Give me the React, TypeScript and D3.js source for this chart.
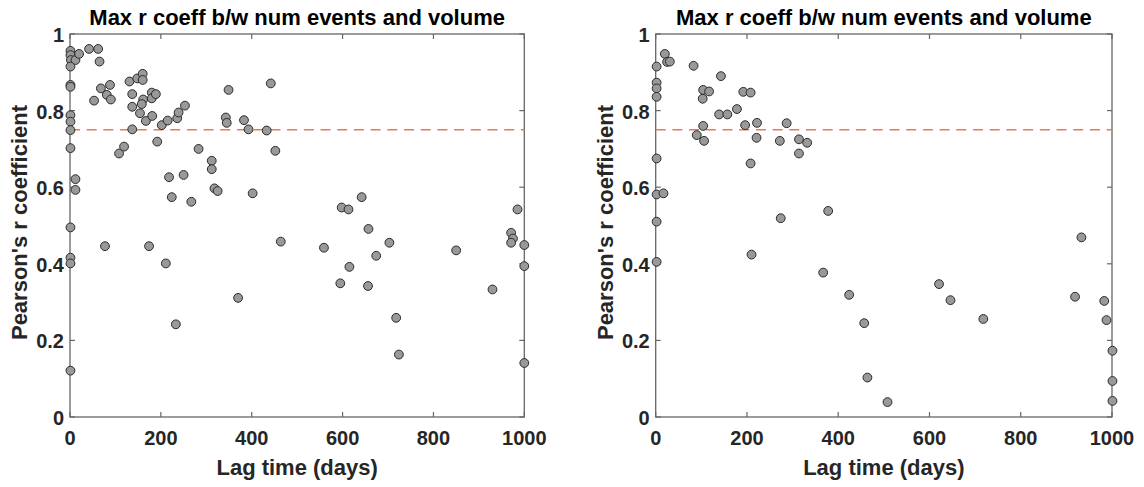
import React from "react";
import * as d3 from "d3";

const leftLag = [1, 1, 2, 12, 20, 1, 1, 1, 42, 62, 65, 53, 68, 88, 81, 90, 1, 1, 1, 1, 12, 12, 1, 77, 174, 108, 119, 131, 137, 137, 137, 148, 160, 160, 161, 154, 158, 167, 180, 180, 189, 181, 192, 202, 215, 236, 239, 253, 218, 224, 250, 267, 283, 312, 312, 318, 325, 343, 345, 349, 383, 393, 402, 433, 442, 452, 464, 559, 598, 613, 642, 657, 1, 1, 1, 211, 233, 370, 595, 615, 656, 674, 703, 718, 724, 850, 930, 971, 975, 971, 1000, 1000, 1000, 985];
const leftR = [0.956, 0.945, 0.932, 0.932, 0.948, 0.915, 0.867, 0.862, 0.961, 0.961, 0.928, 0.826, 0.858, 0.867, 0.841, 0.829, 0.788, 0.771, 0.749, 0.702, 0.621, 0.593, 0.495, 0.446, 0.446, 0.688, 0.706, 0.876, 0.843, 0.751, 0.81, 0.884, 0.896, 0.88, 0.829, 0.793, 0.817, 0.773, 0.847, 0.832, 0.843, 0.786, 0.719, 0.762, 0.774, 0.78, 0.795, 0.813, 0.626, 0.574, 0.632, 0.562, 0.7, 0.669, 0.647, 0.597, 0.59, 0.782, 0.768, 0.854, 0.775, 0.751, 0.584, 0.748, 0.871, 0.695, 0.458, 0.442, 0.547, 0.542, 0.574, 0.491, 0.416, 0.401, 0.121, 0.401, 0.242, 0.311, 0.349, 0.392, 0.342, 0.421, 0.455, 0.259, 0.163, 0.435, 0.333, 0.481, 0.466, 0.455, 0.449, 0.394, 0.141, 0.542];

const rightLag = [2, 2, 2, 2, 2, 2, 17, 2, 20, 25, 31, 83, 143, 104, 117, 103, 139, 157, 178, 192, 208, 196, 222, 221, 208, 104, 90, 106, 272, 287, 314, 332, 314, 274, 378, 2, 210, 367, 424, 457, 464, 508, 621, 646, 718, 933, 919, 983, 988, 1001, 1001, 1001];
const rightR = [0.915, 0.873, 0.858, 0.836, 0.675, 0.581, 0.584, 0.51, 0.948, 0.927, 0.928, 0.917, 0.89, 0.854, 0.85, 0.831, 0.79, 0.79, 0.804, 0.849, 0.847, 0.762, 0.768, 0.729, 0.662, 0.76, 0.736, 0.721, 0.721, 0.767, 0.725, 0.716, 0.688, 0.519, 0.538, 0.405, 0.424, 0.377, 0.319, 0.245, 0.103, 0.039, 0.347, 0.305, 0.256, 0.469, 0.314, 0.303, 0.253, 0.173, 0.094, 0.042];

const xTicks = [0, 200, 400, 600, 800, 1000];
const yTicks = [0, 0.2, 0.4, 0.6, 0.8, 1];
const threshold = 0.75;
const titleText = "Max r coeff b/w num events and volume";
const xLabel = "Lag time (days)";
const yLabel = "Pearson's r coefficient";

const FONT = "'Liberation Sans', Arial, sans-serif";
const AXIS = "#666666";

function Panel({ x0, x1, lag, r }: { x0: number; x1: number; lag: number[]; r: number[] }) {
  const top = 34;
  const bottom = 417;
  const x = d3.scaleLinear().domain([0, 1000]).range([x0, x1]);
  const y = d3.scaleLinear().domain([0, 1]).range([bottom, top]);
  const tl = 5;
  const cx = (x0 + x1) / 2;
  return (
    <g>
      <rect x={x0} y={top} width={x1 - x0} height={bottom - top} fill="white" stroke={AXIS} strokeWidth={1.3} />
      {xTicks.map((t) => (
        <g key={"xt" + t}>
          <line x1={x(t)} x2={x(t)} y1={bottom} y2={bottom - tl} stroke={AXIS} strokeWidth={1.2} />
          <line x1={x(t)} x2={x(t)} y1={top} y2={top + tl} stroke={AXIS} strokeWidth={1.2} />
          <text x={x(t)} y={445} textAnchor="middle" fontFamily={FONT} fontWeight="bold" fontSize={20} fill="#262626">
            {t}
          </text>
        </g>
      ))}
      {yTicks.map((t) => (
        <g key={"yt" + t}>
          <line x1={x0} x2={x0 + tl} y1={y(t)} y2={y(t)} stroke={AXIS} strokeWidth={1.2} />
          <line x1={x1} x2={x1 - tl} y1={y(t)} y2={y(t)} stroke={AXIS} strokeWidth={1.2} />
          <text x={x0 - 6} y={y(t) + 8} textAnchor="end" fontFamily={FONT} fontWeight="bold" fontSize={20} fill="#262626">
            {String(t)}
          </text>
        </g>
      ))}
      <line x1={x(0)} x2={x(1000)} y1={y(threshold)} y2={y(threshold)} stroke="#ee7a48" strokeWidth={1.6} strokeDasharray="10 6.7" />
      {lag.map((l, i) => (
        <circle key={i} cx={x(l)} cy={y(r[i])} r={4.4} fill="#999999" stroke="#2a2a2a" strokeWidth={1} />
      ))}
      <text x={cx} y={25} textAnchor="middle" fontFamily={FONT} fontWeight="bold" fontSize={22} fill="#000">
        {titleText}
      </text>
      <text x={cx} y={475} textAnchor="middle" fontFamily={FONT} fontWeight="bold" fontSize={22} fill="#262626">
        {xLabel}
      </text>
      <text
        transform={`translate(${x0 - 43},${(top + bottom) / 2 - 3}) rotate(-90)`}
        textAnchor="middle"
        fontFamily={FONT}
        fontWeight="bold"
        fontSize={22}
        fill="#262626"
      >
        {yLabel}
      </text>
    </g>
  );
}

export default function App() {
  return (
    <svg width={1144} height={487} style={{ position: "absolute", left: 0, top: 0, background: "white" }}>
      <rect width={1144} height={487} fill="white" />
      <Panel x0={70} x1={524.3} lag={leftLag} r={leftR} />
      <Panel x0={655.7} x1={1112} lag={rightLag} r={rightR} />
    </svg>
  );
}
